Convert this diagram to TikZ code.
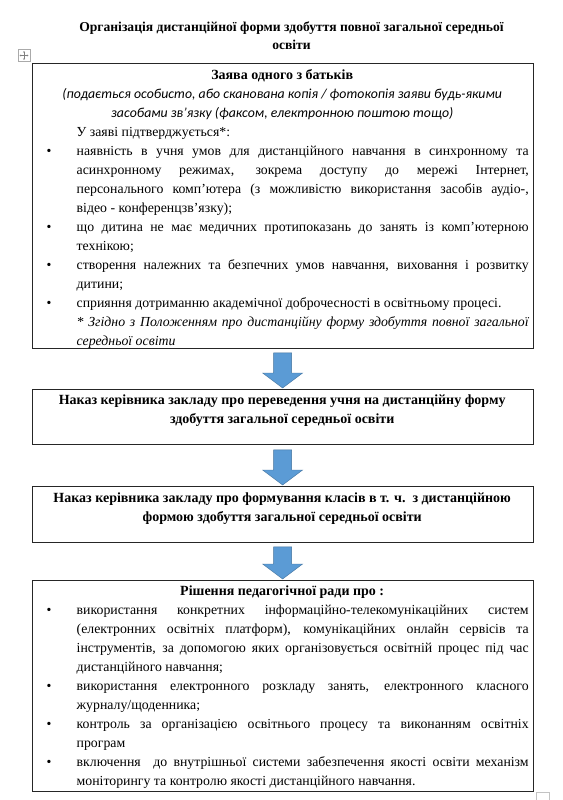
\documentclass[tikz,border=0pt]{standalone}
\usepackage{fontspec}
\setmainfont{Liberation Serif}
\newfontfamily\calfont{Carlito}
\usetikzlibrary{calc,arrows.meta}
\definecolor{arrowblue}{RGB}{91,155,213}
\definecolor{arrowedge}{RGB}{65,113,156}
\definecolor{handlegray}{RGB}{170,170,170}
\hyphenpenalty=10000
\exhyphenpenalty=10000
\tolerance=10000
\newcommand\bitem[1]{\par\noindent\hangindent=41pt\hangafter=1\makebox[41pt][l]{\hspace{11pt}\textbullet}#1\par}
\newcommand\blockdown[2]{%
  \draw[blockarrow] let \p1=(#1), \p2=(#2) in
    (\x1-9pt,\y1) -- (\x1+9pt,\y1) -- (\x1+9pt,\y2+15pt) -- (\x1+20pt,\y2+15pt)
    -- (\x1,\y2) -- (\x1-20pt,\y2+15pt) -- (\x1-9pt,\y2+15pt) -- cycle;}
\begin{document}
\begin{tikzpicture}[x=1pt,y=-1pt,
  frame/.style={draw=black!85, line width=0.8pt, minimum width=501.5pt, inner sep=0, anchor=north west},
  txt/.style={anchor=north west, inner sep=0, text width=493pt, align=justify,
    font=\fontsize{13.8}{19}\selectfont},
  blockarrow/.style={fill=arrowblue, draw=arrowedge, line width=0.4pt},
  titletxt/.style={align=center, inner sep=0, font=\bfseries\fontsize{13.6}{18}\selectfont}]
\useasboundingbox (0,0) rectangle (562,800);

\node[titletxt] (title) at (291.5,36) {Організація дистанційної форми здобуття повної загальної середньої\\освіти};

% handles
\node[draw=handlegray, line width=0.5pt, minimum size=12pt, inner sep=0] (movehandle) at (24,55.5) {};
\draw[gray, line width=0.5pt, {Stealth[length=1.6pt,width=2pt]}-{Stealth[length=1.6pt,width=2pt]}]
  ($(movehandle.center)+(-4.5,0)$) -- ($(movehandle.center)+(4.5,0)$);
\draw[gray, line width=0.5pt, {Stealth[length=1.6pt,width=2pt]}-{Stealth[length=1.6pt,width=2pt]}]
  ($(movehandle.center)+(0,-4.5)$) -- ($(movehandle.center)+(0,4.5)$);
\node[draw=handlegray!70, line width=0.6pt, minimum width=13pt, minimum height=12pt, inner sep=0, anchor=north west] (resizehandle) at (536,792) {};

% boxes
\node[frame, minimum height=285pt] (box1) at (31.5,63) {};
\node[frame, minimum height=55pt] (box2) at (31.5,389) {};
\node[frame, minimum height=56pt] (box3) at (31.5,486) {};
\node[frame, minimum height=211pt] (box4) at (31.5,580) {};

\node[txt] (t1) at ($(box1.north west)+(4,3)$) {%
\centerline{\strut\bfseries\fontsize{14}{19}\selectfont Заява одного з батьків}
{\calfont\itshape\fontsize{13.8}{19}\selectfont
\centerline{(подається особисто, або сканована копія / фотокопія заяви будь-якими}
\centerline{засобами зв’язку (факсом, електронною поштою тощо)}}
\par\noindent\hspace*{41pt}У заяві підтверджується*:\par
\bitem{наявність в учня умов для дистанційного навчання в синхронному та\linebreak
асинхронному режимах, зокрема доступу до мережі Інтернет,\linebreak
персонального комп’ютера (з можливістю використання засобів аудіо-,\linebreak
відео - конференцзв’язку);}
\bitem{що дитина не має медичних протипоказань до занять із комп’ютерною\linebreak
технікою;}
\bitem{створення належних та безпечних умов навчання, виховання і розвитку\linebreak
дитини;}
\bitem{сприяння дотриманню академічної доброчесності в освітньому процесі.}
\par\noindent\hangindent=41pt\hangafter=0{\itshape * Згідно з Положенням про дистанційну форму здобуття повної загальної\linebreak
середньої освіти}\par};

\node[txt] (t2) at ($(box2.north west)+(4,1.5)$) {%
\bfseries\fontsize{14}{19}\selectfont
\centerline{\strut Наказ керівника закладу про переведення учня на дистанційну форму}
\centerline{здобуття загальної середньої освіти}};

\node[txt] (t3) at ($(box3.north west)+(4,2.5)$) {%
\bfseries\fontsize{14}{19}\selectfont
\centerline{\strut Наказ керівника закладу про формування класів в т. ч.\ \ з дистанційною}
\centerline{формою здобуття загальної середньої освіти}};

\node[txt] (t4) at ($(box4.north west)+(4,2)$) {%
\centerline{\strut\bfseries\fontsize{14}{19}\selectfont Рішення педагогічної ради про :}
\bitem{використання конкретних інформаційно-телекомунікаційних систем\linebreak
(електронних освітніх платформ), комунікаційних онлайн сервісів та\linebreak
інструментів, за допомогою яких організовується освітній процес під час\linebreak
дистанційного навчання;}
\bitem{використання електронного розкладу занять, електронного класного\linebreak
журналу/щоденника;}
\bitem{контроль за організацією освітнього процесу та виконанням освітніх\linebreak
програм}
\bitem{включення\ \ до внутрішньої системи забезпечення якості освіти механізм\linebreak
моніторингу та контролю якості дистанційного навчання.}};

% arrows
\coordinate (a1) at ($(box1.south)+(0,4)$);
\coordinate (b1) at ($(box2.north)+(0,-1)$);
\coordinate (a2) at ($(box2.south)+(0,5)$);
\coordinate (b2) at ($(box3.north)+(0,-1)$);
\coordinate (a3) at ($(box3.south)+(0,4)$);
\coordinate (b3) at ($(box4.north)+(0,-1)$);
\blockdown{a1}{b1}
\blockdown{a2}{b2}
\blockdown{a3}{b3}
\end{tikzpicture}
\end{document}
